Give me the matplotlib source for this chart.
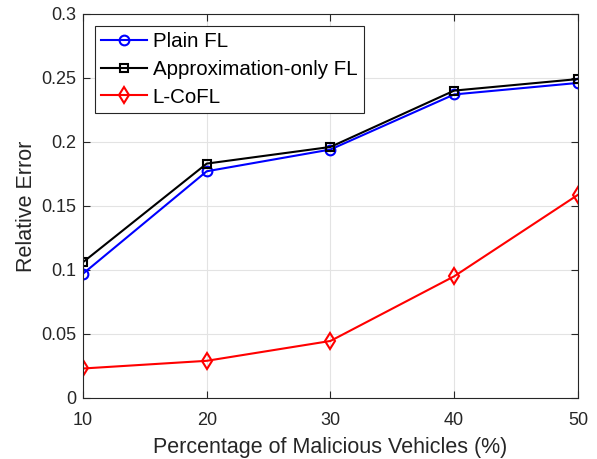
import matplotlib
matplotlib.use("Agg")
from matplotlib import pyplot as plt

plt.rcParams["font.family"] = ["Liberation Sans", "DejaVu Sans"]

percentages = [10, 20, 30, 40, 50]
plain_fl = [0.097, 0.177, 0.194, 0.237, 0.246]
approx_fl = [0.106, 0.183, 0.196, 0.240, 0.249]
l_cofl = [0.023, 0.029, 0.0445, 0.095, 0.1586]

fig = plt.figure(figsize=(5.97, 4.59), dpi=100)
ax = fig.add_axes([0.139, 0.133, 0.829, 0.837])

ax.plot(percentages, plain_fl, color="#0000ff", marker="o", markersize=7,
        markerfacecolor="none", markeredgewidth=1.5, linewidth=1.5, label="Plain FL")
ax.plot(percentages, approx_fl, color="black", marker="s", markersize=5.5,
        markerfacecolor="none", markeredgewidth=1.5, linewidth=1.5,
        label="Approximation-only FL")
ax.plot(percentages, l_cofl, color="#ff0000", marker="d", markersize=8,
        markerfacecolor="none", markeredgewidth=1.5, linewidth=1.5, label="L-CoFL")

ax.set_xlim(10, 50)
ax.set_ylim(0, 0.3)
ax.set_xticks(percentages)
ax.set_yticks([0, 0.05, 0.1, 0.15, 0.2, 0.25, 0.3])
ax.set_yticklabels(["0", "0.05", "0.1", "0.15", "0.2", "0.25", "0.3"])
ax.grid(True, color="#e3e3e3", linewidth=0.8)
ax.set_axisbelow(True)
ax.tick_params(labelsize=13, colors="#262626", direction="in", length=5,
               top=True, right=True)
ax.tick_params(axis="x", pad=10)
ax.tick_params(axis="y", pad=5)
for s in ax.spines.values():
    s.set_color("#262626")
    s.set_linewidth(0.8)

ax.set_xlabel("Percentage of Malicious Vehicles (%)", fontsize=15.5,
              color="#262626", labelpad=6)
ax.set_ylabel("Relative Error", fontsize=15.5, color="#262626", labelpad=3)

leg = ax.legend(loc="upper left", fontsize=14.8, fancybox=False, framealpha=1,
                edgecolor="#262626", borderpad=0.3, labelspacing=0.42,
                handlelength=2.2, handletextpad=0.3, borderaxespad=0.6)
leg.get_frame().set_linewidth(0.8)

fig.savefig("out.png", dpi=100)
